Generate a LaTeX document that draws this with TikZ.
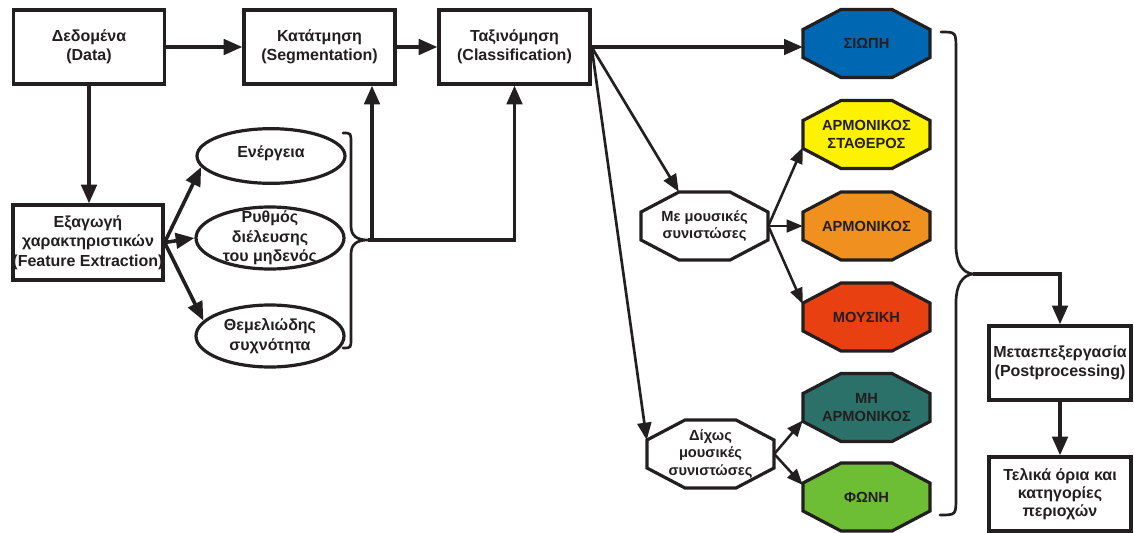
\documentclass[tikz,border=0pt]{standalone}
\usepackage{fontspec}
\setmainfont{Liberation Sans}
\usetikzlibrary{arrows.meta,calc,shapes.geometric}

\definecolor{ink}{HTML}{231F20}
\definecolor{silence}{HTML}{0068B3}
\definecolor{steadyharm}{HTML}{FFF200}
\definecolor{harmonic}{HTML}{F0901E}
\definecolor{music}{HTML}{E84010}
\definecolor{nonharm}{HTML}{2B7069}
\definecolor{voice}{HTML}{6DBE35}

% octagonal class node: #1 name, #2 centre, #3 fill colour, #4 label
\newcommand\octagonnode[4]{%
  \draw[octedge, fill=#3, shift={(#2)}]
    (-63.5,-14) -- (-25.5,-34) -- (25.5,-34) -- (63.5,-14) --
    (63.5,14) -- (25.5,34) -- (-25.5,34) -- (-63.5,14) -- cycle;
  \node[octlabel] (#1) at (#2) {#4};
}

\begin{document}
\begin{tikzpicture}[x=0.75pt, y=-0.75pt,
  boxfont/.style={font=\bfseries\fontsize{12}{14.5}\selectfont},
  box/.style={draw=ink, line width=2.4pt, fill=white, rectangle,
    minimum width=113.25pt, minimum height=55.5pt, inner sep=0pt},
  boxtext/.style={boxfont, align=center, text=ink, inner sep=0pt},
  oval/.style={draw=ink, line width=2.4pt, fill=white, ellipse,
    minimum width=111pt, inner sep=0pt},
  octedge/.style={draw=ink, line width=2.4pt, line join=miter},
  octlabel/.style={rectangle, minimum width=95.25pt, minimum height=51pt,
    inner sep=0pt, align=center, text=ink,
    font=\bfseries\fontsize{11}{13}\selectfont},
  link/.style={draw=ink, line width=2.7pt},
  arrowlink/.style={link, -{Triangle[length=14pt,width=11.5pt]}},
  fanarrow/.style={draw=ink, line width=2pt, -{Triangle[length=13pt,width=10.5pt]}},
  thinarrow/.style={draw=ink, line width=1.9pt, -{Triangle[length=12pt,width=9.5pt]}},
  brace/.style={draw=ink, line width=2pt, line cap=round},
]
\useasboundingbox[fill=white] (0,0) rectangle (1134,532);

% processing stages
\node[box] (data) at (89,47) {};
\node[boxtext] (data-t) at (data) {Δεδομένα\\(Data)};
\node[box] (seg) at (319.5,47) {};
\node[boxtext] (seg-t) at (seg) {Κατάτμηση\\(Segmentation)};
\node[box] (cls) at (514.5,47) {};
\node[boxtext] (cls-t) at (cls) {Ταξινόμηση\\(Classification)};
\node[box, minimum width=112.5pt, minimum height=56.25pt] (feat) at (88,242.5) {};
\node[boxtext] (feat-t) at (feat) {Εξαγωγή\\χαρακτηριστικών\\(Feature Extraction)};

% extracted features
\node[oval, minimum height=41pt] (e1) at (271,156) {};
\node[boxtext] (e1-t) at ($(e1)+(0,-3)$) {Ενέργεια};
\node[oval, minimum height=46.5pt] (e2) at (270,238) {};
\node[boxtext] (e2-t) at (e2) {Ρυθμός\\διέλευσης\\του μηδενός};
\node[oval, minimum height=46.5pt] (e3) at (270,336) {};
\node[boxtext] (e3-t) at (e3) {Θεμελιώδης\\συχνότητα};

% classes
\octagonnode{siopi}{866.5,43.5}{silence}{ΣΙΩΠΗ}
\octagonnode{stath}{866.5,134.5}{steadyharm}{ΑΡΜΟΝΙΚΟΣ\\ΣΤΑΘΕΡΟΣ}
\octagonnode{harm}{866.5,226}{harmonic}{ΑΡΜΟΝΙΚΟΣ}
\octagonnode{mous}{866.5,317}{music}{ΜΟΥΣΙΚΗ}
\octagonnode{mi}{866.5,407.5}{nonharm}{ΜΗ\\ΑΡΜΟΝΙΚΟΣ}
\octagonnode{foni}{866.5,497}{voice}{ΦΩΝΗ}
\octagonnode{me}{704.5,226}{white}{Με μουσικές\\συνιστώσες}
\octagonnode{dix}{710.5,454}{white}{Δίχως\\μουσικές\\συνιστώσες}

% post-processing
\node[box, minimum width=106.5pt] (post) at (1060,363) {};
\node[boxtext] (post-t) at (post) {Μεταεπεξεργασία\\(Postprocessing)};
\node[box, minimum width=106.5pt] (fin) at (1060,494) {};
\node[boxtext, font=\bfseries\fontsize{12}{13.5}\selectfont] (fin-t) at (fin) {Τελικά όρια και\\κατηγορίες\\περιοχών};

% main flow
\draw[arrowlink] (data.east) -- (seg.west);
\draw[arrowlink] (seg.east) -- (cls.west);
\draw[arrowlink] (data.south) -- (data.south |- feat.north);
\draw[arrowlink] (feat.east) -- (e1.189);
\draw[arrowlink] (feat.east) -- (e2.west);
\draw[arrowlink] (feat.east) -- (e3.167);

% feature brace feeding segmentation and classification
\coordinate (tip1) at (368,240);
\coordinate (j1) at (372,240);
\draw[brace] (343,133) .. controls (351,133) .. (351,143) -- (351,226)
  .. controls (351,236) and (357,240) .. (tip1)
  .. controls (357,240) and (351,244) .. (351,254) -- (351,338)
  .. controls (351,348) .. (343,348);
\draw[arrowlink] (tip1) -| (cls.south);
\draw[arrowlink] (j1) -- (j1 |- seg.south);

% classification outputs
\draw[arrowlink] (cls.east) -- (cls.east -| siopi.west);
\draw[fanarrow] (cls.east) -- ($(me.north west)+(38,0)$);
\draw[fanarrow] (cls.east) -- ($(dix.west)+(0,-14)$);
\draw[thinarrow] (me.east) -- ($(stath.west)+(0,13)$);
\draw[thinarrow] (me.east) -- (harm.west);
\draw[thinarrow] (me.east) -- ($(mous.west)+(0,-13)$);
\draw[thinarrow] (dix.east) -- ($(mi.west)+(0,13)$);
\draw[thinarrow] (dix.east) -- ($(foni.west)+(0,-12)$);

% class brace into post-processing
\coordinate (tip2) at (973,274);
\draw[brace] (941,32) .. controls (956,32) .. (956,50) -- (956,246)
  .. controls (956,262) and (962,273) .. (tip2)
  .. controls (962,275) and (956,286) .. (956,302) -- (956,497)
  .. controls (956,515) .. (940,515);
\draw[arrowlink] (tip2) -| (post.north);
\draw[arrowlink] (post.south) -- (fin.north);
\end{tikzpicture}
\end{document}
